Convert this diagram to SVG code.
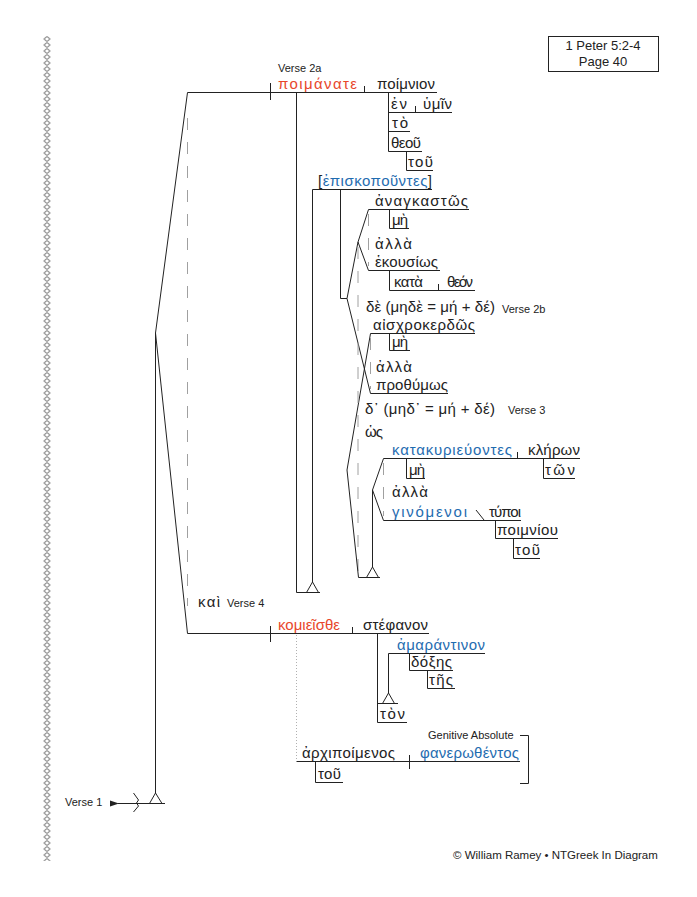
<svg xmlns="http://www.w3.org/2000/svg" width="697" height="897" viewBox="0 0 697 897">
<style>
.g{font-family:"Liberation Sans","DejaVu Sans",sans-serif;font-size:15px;fill:#222}
.r{fill:#e8472b}
.b{fill:#1f6cb0}
.k{fill:#222}
.lbl{font-family:"Liberation Sans",Arial,sans-serif;font-size:11px;fill:#222}
.ftr{font-family:"Liberation Sans",Arial,sans-serif;font-size:11.5px;fill:#222}
.ln{stroke:#222;stroke-width:1;fill:none}
.dash{stroke:#a0a0a0;stroke-width:1;stroke-dasharray:12 12;fill:none}
.dot{stroke:#b0b0b0;stroke-width:1;stroke-dasharray:1 2;fill:none}
</style>
<defs>
<pattern id="chain" x="43.5" y="36" width="7" height="6" patternUnits="userSpaceOnUse">
<path d="M3.5,0.5 L6.5,3 L3.5,5.5 L0.5,3 Z" stroke="#555" stroke-width="1" fill="none"/>
</pattern>
<marker id="arr" markerWidth="9" markerHeight="7" refX="1" refY="3.5" orient="auto-start-reverse" markerUnits="userSpaceOnUse">
<path d="M0,3.5 L9,0.5 L9,6.5 Z" fill="#222"/>
</marker>
</defs>
<rect width="697" height="897" fill="#fff"/>
<rect x="43.5" y="36" width="7" height="825" fill="url(#chain)"/>

<g id="connectors">
<path class="ln" d="M155.5,333 L187.5,92.5 M155.5,333 L187.5,633.5 M155.5,333 L155.5,793"/>
<path class="ln" d="M155.5,793 L149.5,803.5 L162,803.5 Z"/>
<path class="ln" d="M118,803.5 L165,803.5" marker-start="url(#arr)"/>
<path class="ln" d="M133.5,793 L138.5,800 L136.5,803 L138.5,806 L133.5,812"/>
<path class="dash" d="M187.5,118 L187.5,606"/>
<path class="ln" d="M187.5,92.5 L437,92.5 M270.5,83 L270.5,100 M364.5,86 L364.5,92.5"/>
<path class="ln" d="M296.5,92.5 L296.5,592.5 L320,592.5"/>
<path class="ln" d="M312.5,582 L306.5,592.5 L318.5,592.5 Z"/>
<path class="ln" d="M312.5,189.5 L312.5,582 M312.5,189.5 L432,189.5"/>
<path class="ln" d="M388.5,92.5 L388.5,151.5 M388.5,112.5 L452,112.5 M415.5,106 L415.5,112.5 M388.5,131.5 L410,131.5 M388.5,151.5 L422,151.5"/>
<path class="ln" d="M406.5,151.5 L406.5,170.5 L433,170.5"/>
<path class="ln" d="M340.5,189.5 L340.5,298.5 L347,298.5 L358,242 M368.5,209.5 L358,242 L368.5,270.5"/>
<path class="ln" d="M368.5,209.5 L469,209.5 M389.5,209.5 L389.5,228.5 L409,228.5"/>
<path class="ln" d="M368.5,270.5 L440,270.5 M389.5,270.5 L389.5,290.5 L475,290.5 M438.5,284 L438.5,290.5"/>
<path class="dash" d="M368.5,214 L368.5,266" stroke-dasharray="8 10"/>
<path class="ln" d="M347,298.5 L370.5,393.5 M370.5,333.5 L347,470"/>
<path class="ln" d="M370.5,333.5 L475,333.5 M389.5,333.5 L389.5,350.5 L410,350.5 M370.5,393.5 L448,393.5"/>
<path class="dash" d="M370.5,338 L370.5,389" stroke-dasharray="8 10"/>
<path class="dash" d="M358,247 L358,574" stroke-dasharray="12 10"/>
<path class="ln" d="M347,470 L358.5,577.5 L380,577.5"/>
<path class="ln" d="M372.5,567 L366.5,577.5 L378.5,577.5 Z"/>
<path class="ln" d="M372.5,490 L372.5,567 M383.5,458.5 L372.5,490 L383.5,520.5"/>
<path class="ln" d="M383.5,458.5 L580,458.5 M517.5,452 L517.5,458.5 M406.5,458.5 L406.5,478.5 L425,478.5 M543.5,458.5 L543.5,478.5 L575,478.5"/>
<path class="dash" d="M383.5,463 L383.5,516" stroke-dasharray="8 10"/>
<path class="ln" d="M383.5,520.5 L521,520.5 M476,510 L484,520 M495.5,520.5 L495.5,538.5 L558,538.5 M513.5,538.5 L513.5,558.5 L540,558.5"/>
<path class="ln" d="M187.5,633.5 L429,633.5 M270.5,626 L270.5,642 M352.5,627 L352.5,633.5"/>
<path class="dot" d="M296.5,635 L296.5,760"/>
<path class="ln" d="M377.5,633.5 L377.5,722.5 L407,722.5 M377.5,703.5 L398,703.5"/>
<path class="ln" d="M388.5,693 L382.5,703.5 L394.5,703.5 Z"/>
<path class="ln" d="M388.5,653.5 L388.5,693 M388.5,653.5 L485,653.5 M409.5,653.5 L409.5,670.5 L453,670.5 M427.5,670.5 L427.5,688.5 L455,688.5"/>
<path class="ln" d="M296.5,761.5 L520,761.5 M409.5,755 L409.5,769 M315.5,761.5 L315.5,782.5 L343,782.5"/>
<path class="ln" d="M520,735.5 L528.5,735.5 L528.5,783.5 L520,783.5"/>
</g>

<g id="title-box">
<rect x="548.5" y="36.5" width="110" height="35" fill="none" stroke="#222" stroke-width="1"/>
<text x="603" y="50" text-anchor="middle" font-family="Liberation Sans,Arial,sans-serif" font-size="13" fill="#222">1 Peter 5:2-4</text>
<text x="603" y="66" text-anchor="middle" font-family="Liberation Sans,Arial,sans-serif" font-size="13" fill="#222">Page 40</text>
</g>

<g id="labels">
<text class="lbl" x="278" y="72">Verse 2a</text>
<text class="lbl" x="502" y="313">Verse 2b</text>
<text class="lbl" x="508" y="414">Verse 3</text>
<text class="lbl" x="227" y="607">Verse 4</text>
<text class="lbl" x="65" y="806">Verse 1</text>
<text class="lbl" x="428" y="739">Genitive Absolute</text>
<text class="ftr" x="453" y="859">© William Ramey • NTGreek In Diagram</text>
</g>

<g id="n-poimanate"><text class="g r" x="278" y="89" textLength="79">ποιμάνατε</text></g>
<g id="n-poimnion"><text class="g" x="377" y="89" textLength="58">ποίμνιον</text></g>
<g id="n-en"><text class="g" x="391" y="109" textLength="16">ἐν</text></g>
<g id="n-hymin"><text class="g" x="423" y="109" textLength="29">ὑμῖν</text></g>
<g id="n-to"><text class="g" x="392" y="128" textLength="16">τὸ</text></g>
<g id="n-theou"><text class="g" x="391" y="148" textLength="30">θεοῦ</text></g>
<g id="n-tou1"><text class="g" x="408" y="167" textLength="25">τοῦ</text></g>
<g id="n-episkopountes"><text class="g" x="318" y="186" textLength="114"><tspan class="k">[</tspan><tspan class="b">ἐπισκοποῦντες</tspan><tspan class="k">]</tspan></text></g>
<g id="n-anankastos"><text class="g" x="375" y="206" textLength="93">ἀναγκαστῶς</text></g>
<g id="n-me1"><text class="g" x="392" y="225" textLength="16">μὴ</text></g>
<g id="n-alla1"><text class="g" x="375" y="249" textLength="37">ἀλλὰ</text></g>
<g id="n-hekousios"><text class="g" x="375" y="267" textLength="63">ἑκουσίως</text></g>
<g id="n-kata"><text class="g" x="394" y="287" textLength="29">κατὰ</text></g>
<g id="n-theon"><text class="g" x="447" y="287" textLength="26">θεόν</text></g>
<g id="n-de1"><text class="g" x="366" y="312" textLength="129">δὲ (μηδὲ = μή + δέ)</text></g>
<g id="n-aischrokerdos"><text class="g" x="373" y="330" textLength="102">αἰσχροκερδῶς</text></g>
<g id="n-me2"><text class="g" x="392" y="347" textLength="16">μὴ</text></g>
<g id="n-alla2"><text class="g" x="376" y="372" textLength="36">ἀλλὰ</text></g>
<g id="n-prothymos"><text class="g" x="376" y="390" textLength="72">προθύμως</text></g>
<g id="n-de2"><text class="g" x="365" y="414" textLength="130">δ᾽ (μηδ᾽ = μή + δέ)</text></g>
<g id="n-hos"><text class="g" x="365" y="437" textLength="18">ὡς</text></g>
<g id="n-katakyrieuontes"><text class="g b" x="392" y="455" textLength="120">κατακυριεύοντες</text></g>
<g id="n-kleron"><text class="g" x="528" y="455" textLength="52">κλήρων</text></g>
<g id="n-me3"><text class="g" x="409" y="475" textLength="16">μὴ</text></g>
<g id="n-ton1"><text class="g" x="545" y="475" textLength="30">τῶν</text></g>
<g id="n-alla3"><text class="g" x="392" y="497" textLength="36">ἀλλὰ</text></g>
<g id="n-ginomenoi"><text class="g b" x="392" y="517" textLength="75">γινόμενοι</text></g>
<g id="n-typoi"><text class="g" x="489" y="517" textLength="32">τύποι</text></g>
<g id="n-poimniou"><text class="g" x="497" y="535" textLength="61">ποιμνίου</text></g>
<g id="n-tou2"><text class="g" x="515" y="555" textLength="25">τοῦ</text></g>
<g id="n-kai"><text class="g" x="198" y="607" textLength="22">καὶ</text></g>
<g id="n-komieisthe"><text class="g r" x="278" y="630" textLength="62">κομιεῖσθε</text></g>
<g id="n-stephanon"><text class="g" x="363" y="630" textLength="65">στέφανον</text></g>
<g id="n-amarantinon"><text class="g b" x="397" y="650" textLength="88">ἀμαράντινον</text></g>
<g id="n-doxes"><text class="g" x="411" y="667" textLength="41">δόξης</text></g>
<g id="n-tes"><text class="g" x="429" y="685" textLength="24">τῆς</text></g>
<g id="n-ton2"><text class="g" x="380" y="719" textLength="25">τὸν</text></g>
<g id="n-archipoimenos"><text class="g" x="302" y="758" textLength="93">ἀρχιποίμενος</text></g>
<g id="n-phanerothentos"><text class="g b" x="420" y="758" textLength="99">φανερωθέντος</text></g>
<g id="n-tou3"><text class="g" x="318" y="779" textLength="23">τοῦ</text></g>
</svg>
